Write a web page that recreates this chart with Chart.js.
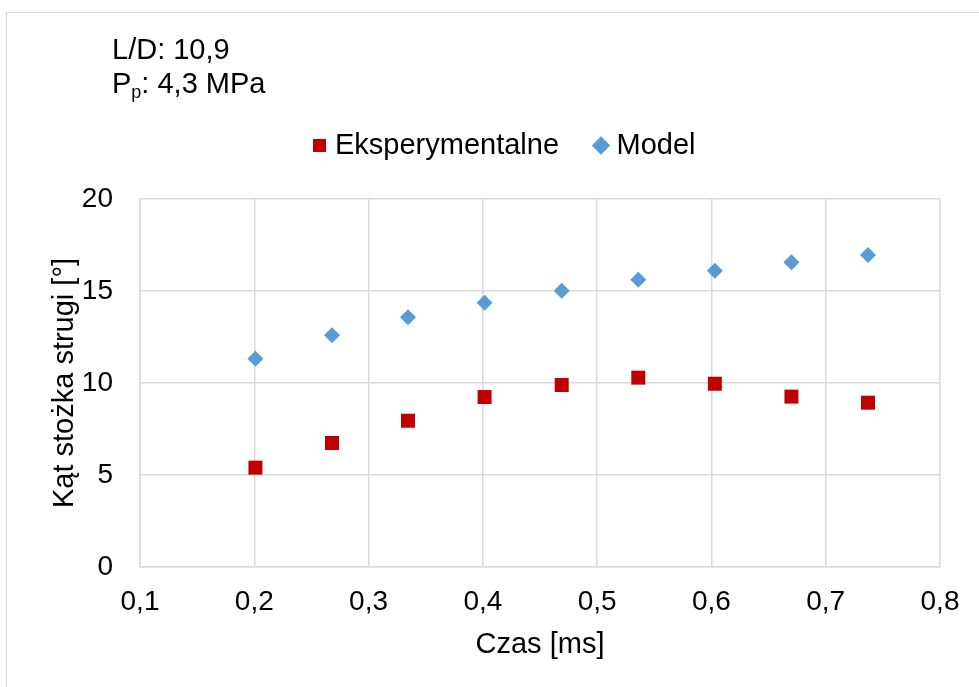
<!DOCTYPE html>
<html>
<head>
<meta charset="utf-8">
<script src="https://cdn.jsdelivr.net/npm/chart.js@4/dist/chart.umd.min.js"></script>
<style>
  html, body { margin: 0; padding: 0; background: #fff; }
  #c { display: block; }
</style>
</head>
<body>
<canvas id="c" width="979" height="687"></canvas>
<script>
// ---- data ----
const timeMs = [0.201, 0.268, 0.3345, 0.4015, 0.469, 0.536, 0.603, 0.670, 0.737];
const experimental = [5.40, 6.74, 7.95, 9.24, 9.89, 10.29, 9.96, 9.26, 8.93];
const model = [11.32, 12.59, 13.57, 14.36, 15.02, 15.61, 16.10, 16.56, 16.96];
const seriesNames = ['Eksperymentalne', 'Model'];
const xTitle = 'Czas [ms]';
const yTitle = 'Kąt stożka strugi [°]';
const infoLine1 = 'L/D: 10,9';
const infoPressure = ['P', 'p', ': 4,3 MPa'];

const FONT = '"Liberation Sans", Arial, sans-serif';
const fmt = v => Number(v).toFixed(1).replace('.', ',');

const toPts = (xs, ys) => xs.map((x, i) => ({x: x, y: ys[i]}));

const annot = {
  id: 'annot',
  beforeDraw(chart) {
    const ctx = chart.ctx;
    ctx.save();
    ctx.fillStyle = '#fff';
    ctx.fillRect(0, 0, chart.width, chart.height);
    ctx.strokeStyle = '#d9d9d9';
    ctx.lineWidth = 1;
    ctx.strokeRect(6.5, 12.5, 2000, 2000);
    ctx.restore();
  },
  afterDraw(chart) {
    const ctx = chart.ctx;
    ctx.save();
    ctx.fillStyle = '#000';
    ctx.textAlign = 'left';
    ctx.textBaseline = 'alphabetic';
    ctx.font = '29px ' + FONT;
    ctx.fillText(infoLine1, 112, 59);
    ctx.fillText(infoPressure[0], 112, 93);
    const pw = ctx.measureText(infoPressure[0]).width;
    ctx.font = '18px ' + FONT;
    ctx.fillText(infoPressure[1], 112 + pw, 98);
    const sw = ctx.measureText(infoPressure[1]).width;
    ctx.font = '29px ' + FONT;
    ctx.fillText(infoPressure[2], 112 + pw + sw, 93);
    ctx.restore();
  }
};

new Chart(document.getElementById('c'), {
  type: 'scatter',
  data: {
    datasets: [
      {
        label: seriesNames[0],
        data: toPts(timeMs, experimental),
        pointStyle: 'rect',
        pointRadius: 9.9,
        pointHoverRadius: 9.9,
        backgroundColor: '#C00000',
        borderColor: '#C00000',
        borderWidth: 0
      },
      {
        label: seriesNames[1],
        data: toPts(timeMs, model),
        pointStyle: 'rectRot',
        pointRadius: 8,
        pointHoverRadius: 8,
        backgroundColor: '#5B9BD5',
        borderColor: '#5B9BD5',
        borderWidth: 0
      }
    ]
  },
  options: {
    responsive: false,
    animation: false,
    devicePixelRatio: 1,
    layout: { padding: { left: 74, right: 39, top: 90, bottom: 20 } },
    plugins: {
      tooltip: { enabled: false },
      legend: {
        position: 'top',
        labels: {
          usePointStyle: true,
          boxWidth: 2,
          boxHeight: 13,
          padding: 41,
          color: '#000',
          font: { family: FONT, size: 29 }
        }
      },
      subtitle: {
        display: true,
        text: '',
        position: 'top',
        weight: 500,
        padding: 0,
        font: { family: FONT, size: 24, lineHeight: '29px' }
      }
    },
    scales: {
      x: {
        type: 'linear',
        min: 0.1,
        max: 0.8,
        afterFit: s => { s.height = 100; },
        grid: { color: '#d9d9d9', lineWidth: 1.5, drawTicks: false },
        border: { color: '#d9d9d9', width: 1.5 },
        ticks: {
          stepSize: 0.1,
          padding: 18,
          color: '#000',
          font: { family: FONT, size: 28 },
          callback: v => fmt(v)
        },
        title: {
          display: true,
          text: xTitle,
          color: '#000',
          font: { family: FONT, size: 29 },
          padding: { top: 0, bottom: 5 }
        }
      },
      y: {
        min: 0,
        max: 20,
        afterFit: s => { s.width = 66; },
        grid: { color: '#d9d9d9', lineWidth: 1.5, drawTicks: false },
        border: { color: '#d9d9d9', width: 1.5 },
        ticks: {
          stepSize: 5,
          padding: 27,
          color: '#000',
          font: { family: FONT, size: 28 }
        },
        title: {
          display: true,
          text: yTitle,
          color: '#000',
          font: { family: FONT, size: 29 },
          padding: { top: -26, bottom: 0 }
        }
      }
    }
  },
  plugins: [annot]
});
</script>
</body>
</html>
